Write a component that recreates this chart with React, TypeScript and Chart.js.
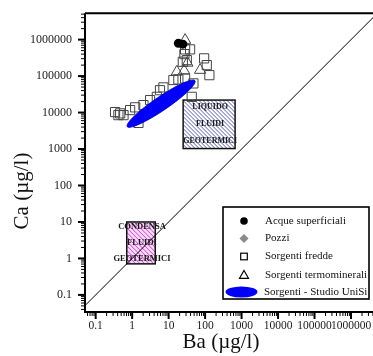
import React, { useEffect, useRef } from 'react';
import { Chart, registerables } from 'chart.js';

Chart.register(...registerables);

const SERIF = '"Liberation Serif", "Times New Roman", serif';

// ---- data ----
const SERIES_LABELS = [
  'Acque superficiali',
  'Pozzi',
  'Sorgenti fredde',
  'Sorgenti termominerali',
  'Sorgenti - Studio UniSi',
];

const acqueBa = [18.5, 24.5];
const acqueCa = [790000, 750000];

const pozziBa: number[] = [];
const pozziCa: number[] = [];

const fredBa = [28.3, 38.8, 27.1, 24.5, 31.5, 94, 111, 131, 13.5, 18.5, 28.3, 47.8, 7.2, 5.8, 4.75, 2.04, 1.21, 0.88, 0.47, 0.42, 0.58, 0.34, 1.49, 43, 3.1];
const fredCa = [540000, 540000, 400000, 247000, 274000, 306000, 200000, 106000, 78000, 81000, 86000, 63000, 49000, 41000, 27000, 16000, 13900, 11700, 9500, 8500, 8500, 10300, 5200, 27000, 22000];

const termoBa = [28.3, 32.7, 73, 16.8, 26.6];
const termoCa = [970000, 230000, 146000, 131000, 140000];

// UniSi field: ends of the ellipse major axis (Ba, Ca) and half width in log decades
const unisiEllipseBa = [0.73, 53];
const unisiEllipseCa = [4100, 75000];
const unisiHalfWidthDecades = 0.19;

// Reference fields
const liquidoBa = [25, 664];
const liquidoCa = [1030, 22000];
const liquidoText = ['LIQUIDO', 'FLUIDI', 'GEOTERMICI'];

const condensaBa = [0.71, 4.3];
const condensaCa = [0.71, 10];
const condensaText = ['CONDENSA', 'FLUIDI', 'GEOTERMICI'];

const oneToOne = [0.001, 1e8];

const xTickValues = [0.1, 1, 10, 100, 1000, 10000, 100000, 1000000];
const yTickValues = [0.1, 1, 10, 100, 1000, 10000, 100000, 1000000];

const X_TITLE = 'Ba (µg/l)';
const Y_TITLE = 'Ca (µg/l)';

const X_MIN = 0.051;
const X_MAX = 1e7;
const Y_MIN = 0.034;
const Y_MAX = 5.3e6;

const pts = (xs: number[], ys: number[]) => xs.map((v, i) => ({ x: v, y: ys[i] }));

const isListed = (v: number, list: number[]) =>
  list.some((t) => Math.abs(Math.log10(v) - Math.log10(t)) < 1e-6);

function drawField(ctx: any, xs: any, ys: any, ba: number[], ca: number[], fill: string, hatch: string, spacing: number, lines: string[], fontSize: number, gapFrac: number) {
  const l = xs.getPixelForValue(ba[0]);
  const r = xs.getPixelForValue(ba[1]);
  const t = ys.getPixelForValue(ca[1]);
  const b = ys.getPixelForValue(ca[0]);
  const w = r - l;
  const h = b - t;
  ctx.save();
  ctx.beginPath();
  ctx.rect(l, t, w, h);
  ctx.fillStyle = fill;
  ctx.fill();
  ctx.clip();
  ctx.strokeStyle = hatch;
  ctx.lineWidth = 1;
  for (let d = -h; d < w; d += spacing) {
    ctx.beginPath();
    ctx.moveTo(l + d, t);
    ctx.lineTo(l + d + h, b);
    ctx.stroke();
  }
  ctx.restore();
  ctx.save();
  ctx.strokeStyle = '#111';
  ctx.lineWidth = 1.5;
  ctx.strokeRect(l, t, w, h);
  ctx.fillStyle = '#1a1a1a';
  ctx.font = `bold ${fontSize}px ${SERIF}`;
  ctx.textAlign = 'center';
  ctx.textBaseline = 'middle';
  const cx = (l + r) / 2;
  const cy = (t + b) / 2;
  const gap = h * gapFrac;
  lines.forEach((s, i) => ctx.fillText(s, cx + 1, cy + (i - 1) * gap));
  ctx.restore();
}

function drawLogTicks(ctx: any, scale: any, horizontal: boolean, axisPos: number) {
  const min = scale.min;
  const max = scale.max;
  for (let e = Math.floor(Math.log10(min)); e <= Math.ceil(Math.log10(max)); e++) {
    for (let k = 1; k <= 9; k++) {
      const v = k * Math.pow(10, e);
      if (v < min || v > max) continue;
      const p = scale.getPixelForValue(v);
      const major = k === 1;
      const len = major ? 7 : 4;
      ctx.lineWidth = major ? 2 : 1;
      ctx.beginPath();
      if (horizontal) {
        ctx.moveTo(p, axisPos);
        ctx.lineTo(p, axisPos + len);
      } else {
        ctx.moveTo(axisPos, p);
        ctx.lineTo(axisPos - len, p);
      }
      ctx.stroke();
    }
  }
}

const decorPlugin = {
  id: 'decor',
  beforeDatasetsDraw(chart: any) {
    const { ctx, chartArea: a, scales } = chart;
    ctx.save();
    ctx.beginPath();
    ctx.rect(a.left, a.top, a.right - a.left, a.bottom - a.top);
    ctx.clip();
    drawField(ctx, scales.x, scales.y, liquidoBa, liquidoCa, '#ffffff', '#5c5ca8', 4, liquidoText, 8, 0.35);
    drawField(ctx, scales.x, scales.y, condensaBa, condensaCa, '#f6d8f6', '#cf45cf', 4.5, condensaText, 8.5, 0.39);
    ctx.restore();
  },
  afterDatasetsDraw(chart: any) {
    const { ctx, chartArea: a, scales } = chart;
    const xs = scales.x;
    const ys = scales.y;

    // UniSi ellipse
    ctx.save();
    ctx.beginPath();
    ctx.rect(a.left, a.top, a.right - a.left, a.bottom - a.top);
    ctx.clip();
    const x1 = xs.getPixelForValue(unisiEllipseBa[0]);
    const y1 = ys.getPixelForValue(unisiEllipseCa[0]);
    const x2 = xs.getPixelForValue(unisiEllipseBa[1]);
    const y2 = ys.getPixelForValue(unisiEllipseCa[1]);
    const decade = ys.getPixelForValue(1) - ys.getPixelForValue(10);
    ctx.beginPath();
    ctx.ellipse((x1 + x2) / 2, (y1 + y2) / 2, Math.hypot(x2 - x1, y2 - y1) / 2, unisiHalfWidthDecades * decade, Math.atan2(y2 - y1, x2 - x1), 0, Math.PI * 2);
    ctx.fillStyle = '#0000fa';
    ctx.fill();
    ctx.strokeStyle = '#0000b0';
    ctx.lineWidth = 0.8;
    ctx.stroke();
    ctx.restore();

    // axes frame and ticks
    ctx.save();
    ctx.strokeStyle = '#000';
    ctx.lineWidth = 2;
    ctx.beginPath();
    ctx.moveTo(a.left, a.top);
    ctx.lineTo(a.right, a.top);
    ctx.moveTo(a.left, a.top);
    ctx.lineTo(a.left, a.bottom);
    ctx.moveTo(a.left - 1, a.bottom);
    ctx.lineTo(a.right, a.bottom);
    ctx.stroke();
    drawLogTicks(ctx, xs, true, a.bottom);
    drawLogTicks(ctx, ys, false, a.left);
    ctx.restore();

    // axis titles
    ctx.save();
    ctx.fillStyle = '#111';
    ctx.font = `21px ${SERIF}`;
    ctx.textAlign = 'center';
    ctx.textBaseline = 'middle';
    ctx.fillText(X_TITLE, 221, 342);
    ctx.translate(22, 191);
    ctx.rotate(-Math.PI / 2);
    ctx.fillText(Y_TITLE, 0, 0);
    ctx.restore();
  },
  afterDraw(chart: any) {
    const { ctx } = chart;
    const labels = chart.data.datasets.slice(0, 5).map((d: any) => d.label);
    ctx.save();
    const L = 223, T = 207, R = 369, B = 299;
    ctx.fillStyle = '#fff';
    ctx.fillRect(L, T, R - L, B - T);
    ctx.strokeStyle = '#000';
    ctx.lineWidth = 1.6;
    ctx.strokeRect(L, T, R - L, B - T);
    const rows = [221, 238.5, 256.5, 275, 292];
    const mx = 244;
    // markers
    ctx.fillStyle = '#000';
    ctx.beginPath();
    ctx.arc(mx, rows[0], 3.8, 0, Math.PI * 2);
    ctx.fill();
    ctx.fillStyle = '#8a8a8a';
    ctx.beginPath();
    ctx.moveTo(mx, rows[1] - 4.5);
    ctx.lineTo(mx + 4.5, rows[1]);
    ctx.lineTo(mx, rows[1] + 4.5);
    ctx.lineTo(mx - 4.5, rows[1]);
    ctx.closePath();
    ctx.fill();
    ctx.strokeStyle = '#000';
    ctx.lineWidth = 1.2;
    ctx.strokeRect(mx - 3.3, rows[2] - 3.3, 6.6, 6.6);
    ctx.beginPath();
    ctx.moveTo(mx, rows[3] - 4.5);
    ctx.lineTo(mx + 4.5, rows[3] + 3.3);
    ctx.lineTo(mx - 4.5, rows[3] + 3.3);
    ctx.closePath();
    ctx.stroke();
    ctx.fillStyle = '#0000fa';
    ctx.beginPath();
    ctx.ellipse(241.5, rows[4], 16, 5.5, 0, 0, Math.PI * 2);
    ctx.fill();
    // texts
    ctx.fillStyle = '#111';
    ctx.font = `11px ${SERIF}`;
    ctx.textAlign = 'left';
    ctx.textBaseline = 'middle';
    labels.forEach((s: string, i: number) => ctx.fillText(s, i === 4 ? 264 : 265, rows[i]));
    ctx.restore();
  },
};

export default function App() {
  const ref = useRef<HTMLCanvasElement>(null);
  useEffect(() => {
    if (!ref.current) return;
    const chart = new Chart(ref.current, {
      type: 'scatter',
      data: {
        datasets: [
          {
            label: SERIES_LABELS[0],
            data: pts(acqueBa, acqueCa),
            pointStyle: 'circle',
            pointRadius: 4.5,
            backgroundColor: '#000',
            borderColor: '#000',
            borderWidth: 0,
          },
          {
            label: SERIES_LABELS[1],
            data: pts(pozziBa, pozziCa),
            pointStyle: 'rectRot',
            pointRadius: 5,
            backgroundColor: '#8a8a8a',
            borderColor: '#8a8a8a',
          },
          {
            label: SERIES_LABELS[2],
            data: pts(fredBa, fredCa),
            pointStyle: 'rect',
            pointRadius: 6.5,
            backgroundColor: 'rgba(0,0,0,0)',
            borderColor: '#444',
            borderWidth: 1,
          },
          {
            label: SERIES_LABELS[3],
            data: pts(termoBa, termoCa),
            pointStyle: 'triangle',
            pointRadius: 6.5,
            backgroundColor: 'rgba(0,0,0,0)',
            borderColor: '#444',
            borderWidth: 1,
          },
          {
            label: SERIES_LABELS[4],
            data: [],
            pointRadius: 0,
          },
          {
            label: '1:1',
            data: pts(oneToOne, oneToOne),
            showLine: true,
            pointRadius: 0,
            borderColor: '#000',
            borderWidth: 1,
          },
        ],
      },
      options: {
        animation: false,
        responsive: false,
        devicePixelRatio: 1,
        layout: { padding: { left: 0, top: 13, right: 52.5, bottom: 0 } },
        plugins: { legend: { display: false }, tooltip: { enabled: false } },
        scales: {
          x: {
            type: 'logarithmic',
            position: 'bottom',
            min: X_MIN,
            max: X_MAX,
            grid: { display: false, drawTicks: true, tickLength: 7 },
            border: { display: false },
            ticks: {
              autoSkip: false,
              maxRotation: 0,
              minRotation: 0,
              padding: 0,
              color: '#222',
              font: { family: SERIF, size: 11.5 },
              callback: (v: any) => (isListed(Number(v), xTickValues) ? String(Number(v)) : ''),
            },
            afterFit: (s: any) => {
              s.height = 44;
            },
          },
          y: {
            type: 'logarithmic',
            position: 'left',
            min: Y_MIN,
            max: Y_MAX,
            grid: { display: false, drawTicks: true, tickLength: 7 },
            border: { display: false },
            ticks: {
              autoSkip: false,
              padding: 6,
              color: '#222',
              font: { family: SERIF, size: 12 },
              callback: (v: any) => (isListed(Number(v), yTickValues) ? String(Number(v)) : ''),
            },
            afterFit: (s: any) => {
              s.width = 85;
            },
          },
        },
      },
      plugins: [decorPlugin],
    } as any);
    return () => chart.destroy();
  }, []);
  return (
    <div style={{ position: 'fixed', left: 0, top: 0, width: 373, height: 356, overflow: 'hidden', background: '#fff' }}>
      <canvas ref={ref} width={440} height={356} style={{ display: 'block', width: 440, height: 356 }} />
    </div>
  );
}
